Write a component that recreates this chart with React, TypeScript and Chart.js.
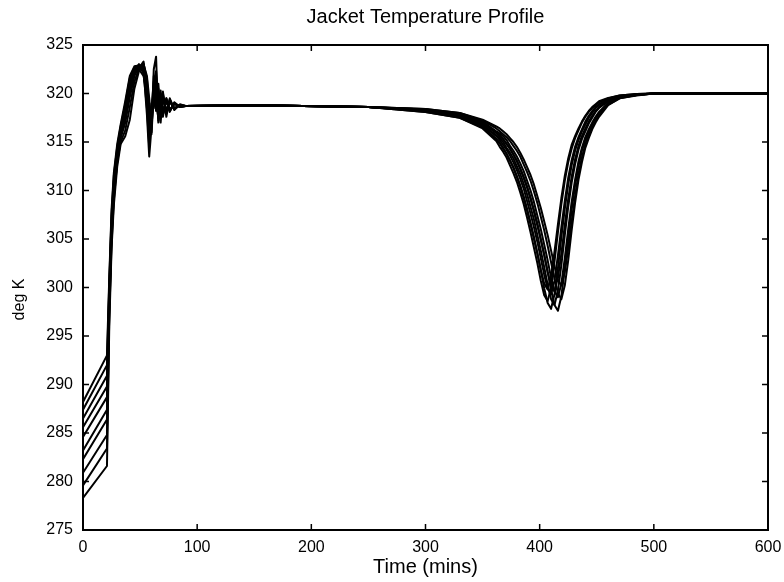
import { useEffect, useRef } from "react";
import { Chart, registerables } from "chart.js";

Chart.register(...registerables);

// Sample times (minutes), shared by every batch run
const TIME = [
  0, 21, 23, 25, 27, 30, 33, 37, 41, 45, 49, 53, 56, 58, 60, 62, 64, 66, 68, 70, 73, 76, 80, 85, 90,
  150, 250, 300, 330, 350,
  362, 365, 368, 371, 374, 377, 380, 383, 386, 389, 392, 395, 398, 401, 404, 407, 410, 413, 416, 419,
  422, 425, 428, 431, 434, 437, 440, 443, 446, 449, 452,
  460, 470, 485, 500, 600,
];

// Jacket temperature (deg K) of each run at the sample times
const RUN_1 = [
  278.3, 281.6, 296, 304, 308.5, 312.5, 314.8, 315.6, 317.3, 320.5, 322.3, 323.1, 321.5, 318.5, 317.8, 320.5, 319, 317.5, 319.8, 318.2, 319.2, 318.2, 319.0, 318.6, 318.7,
  318.8, 318.6, 318.1, 317.5, 316.5,
  315.3, 314.9, 314.4, 313.8, 313.1, 312.3, 311.4, 310.4, 309.2, 307.9, 306.5, 305.0, 303.5, 301.8, 300.4, 299.8, 301.2, 303.7, 306.5, 309.2,
  311.5, 313.3, 314.7, 315.6, 316.4, 317.1, 317.7, 318.2, 318.6, 318.9, 319.2,
  319.55, 319.8, 319.95, 320, 320,
];
const RUN_2 = [
  279.6, 283.4, 297, 304.5, 309, 313, 315.0, 316.2, 318.6, 321.2, 322.6, 323.3, 320.5, 316.2, 318.5, 321.2, 322.3, 318.8, 317.5, 319.8, 318, 319.2, 318.4, 318.8, 318.7,
  318.8, 318.6, 318.1, 317.5, 316.4,
  315.1, 314.5, 314.0, 313.4, 312.6, 311.8, 310.9, 309.8, 308.6, 307.2, 305.7, 304.1, 302.5, 300.7, 299.2, 298.6, 300.0, 302.7, 305.7, 308.6,
  311.0, 312.9, 314.3, 315.4, 316.2, 317.0, 317.6, 318.1, 318.5, 318.8, 319.1,
  319.5, 319.8, 319.95, 320, 320,
];
const RUN_3 = [
  280.9, 284.8, 297.5, 305, 309.5, 313, 315.4, 317.0, 319.6, 321.8, 322.8, 323, 321.8, 319.5, 316.8, 319.2, 321, 318, 319.5, 317.6, 319.5, 318.3, 318.9, 318.7, 318.7,
  318.8, 318.6, 318.2, 317.7, 316.7,
  315.6, 315.2, 314.7, 314.2, 313.6, 312.9, 312.1, 311.2, 310.2, 308.9, 307.6, 306.2, 304.7, 303.0, 301.3, 299.9, 299.3, 300.7, 303.3, 306.2,
  308.9, 311.3, 313.1, 314.5, 315.5, 316.3, 317.1, 317.7, 318.2, 318.6, 318.9,
  319.45, 319.75, 319.9, 320, 320,
];
const RUN_4 = [
  282.3, 286.4, 298, 305.5, 309.5, 313.5, 315.6, 317.4, 320.1, 322, 322.9, 322.8, 319.5, 315, 317.5, 320.5, 318.2, 320.5, 317.8, 319.4, 318.2, 319.3, 318.5, 318.8, 318.7,
  318.8, 318.6, 318.2, 317.6, 316.6,
  315.3, 314.9, 314.3, 313.8, 313.1, 312.4, 311.5, 310.5, 309.4, 308.1, 306.7, 305.2, 303.5, 301.8, 299.9, 298.4, 297.8, 299.3, 302.0, 305.2,
  308.1, 310.6, 312.6, 314.1, 315.2, 316.1, 316.8, 317.5, 318.0, 318.5, 318.8,
  319.4, 319.7, 319.9, 320, 320,
];
const RUN_5 = [
  283.2, 287.4, 298.5, 306, 310, 313.5, 315.8, 317.7, 320.5, 322.2, 323, 322.5, 320.8, 317.5, 316, 321.8, 320.2, 317.8, 319.6, 317.8, 319.4, 318.2, 319, 318.6, 318.7,
  318.8, 318.6, 318.3, 317.8, 316.9,
  316.0, 315.7, 315.3, 314.8, 314.3, 313.7, 313.0, 312.2, 311.3, 310.3, 309.1, 307.8, 306.4, 304.9, 303.3, 301.6, 300.2, 299.6, 301.0, 303.5,
  306.4, 309.1, 311.4, 313.2, 314.6, 315.6, 316.4, 317.1, 317.7, 318.2, 318.6,
  319.3, 319.7, 319.9, 320, 320,
];
const RUN_6 = [
  284.6, 288.7, 299, 306, 310.5, 314, 316.0, 318.0, 320.8, 322.4, 323, 322.2, 318.5, 314.5, 319, 318.5, 320.5, 319.2, 317, 320, 317.9, 319.4, 318.3, 318.9, 318.7,
  318.8, 318.6, 318.3, 317.7, 316.8,
  315.7, 315.4, 315.0, 314.4, 313.9, 313.3, 312.5, 311.7, 310.7, 309.6, 308.3, 307.0, 305.4, 303.8, 302.1, 300.3, 298.8, 298.2, 299.7, 302.3,
  305.4, 308.3, 310.8, 312.7, 314.2, 315.3, 316.1, 316.9, 317.5, 318.1, 318.5,
  319.2, 319.65, 319.9, 320, 320,
];
const RUN_7 = [
  285.6, 289.8, 299.5, 306.5, 310.5, 314, 316.2, 318.3, 321.1, 322.5, 322.8, 322.9, 321, 318.8, 315.8, 320, 321.8, 318, 320.3, 317.8, 319.3, 318.3, 318.9, 318.7, 318.7,
  318.8, 318.6, 318.35, 317.9, 317.1,
  316.1, 315.9, 315.6, 315.2, 314.6, 314.1, 313.5, 312.8, 312.0, 311.0, 310.0, 308.8, 307.4, 306.0, 304.4, 302.8, 301.0, 299.6, 299.0, 300.4,
  303.0, 306.0, 308.8, 311.1, 313.0, 314.4, 315.5, 316.3, 317.0, 317.6, 318.1,
  319.05, 319.6, 319.85, 320, 320,
];
const RUN_8 = [
  286.5, 290.9, 300, 307, 311, 314.2, 316.4, 318.6, 321.4, 322.6, 322.7, 322.6, 317.8, 313.5, 316.5, 322.5, 323.8, 317, 318.5, 320.2, 317.6, 319.5, 318.4, 318.8, 318.7,
  318.8, 318.6, 318.35, 317.8, 317.0,
  315.9, 315.6, 315.3, 314.8, 314.3, 313.7, 313.1, 312.3, 311.4, 310.4, 309.3, 308.0, 306.6, 305.0, 303.4, 301.6, 299.8, 298.2, 297.6, 299.1,
  301.9, 305.0, 308.0, 310.5, 312.5, 314.1, 315.2, 316.0, 316.8, 317.5, 318.0,
  319.0, 319.55, 319.85, 320, 320,
];
const RUN_9 = [
  287.4, 292.0, 300.5, 307.5, 311.5, 314.5, 316.6, 318.9, 321.6, 322.7, 322.5, 321.8, 320.2, 317, 318, 319, 320.5, 317.2, 320, 317.9, 319.5, 318.1, 319.1, 318.6, 318.7,
  318.8, 318.6, 318.4, 318.0, 317.3,
  316.6, 316.4, 316.1, 315.8, 315.4, 315.0, 314.5, 313.9, 313.2, 312.4, 311.6, 310.6, 309.4, 308.2, 306.8, 305.4, 303.8, 302.2, 300.8, 300.2,
  301.6, 304.0, 306.8, 309.4, 311.7, 313.4, 314.8, 315.7, 316.5, 317.2, 317.8,
  318.85, 319.5, 319.85, 320, 320,
];
const RUN_10 = [
  288.2, 293.0, 301, 308, 311.8, 314.8, 316.8, 319.2, 321.8, 322.8, 322.9, 322.1, 319.5, 316, 317.2, 320.8, 319.3, 321, 317.5, 319.6, 318.3, 319.1, 318.5, 318.8, 318.7,
  318.8, 318.6, 318.4, 318.0, 317.2,
  316.4, 316.1, 315.8, 315.5, 315.1, 314.6, 314.1, 313.5, 312.7, 311.9, 311.0, 309.9, 308.7, 307.3, 305.9, 304.3, 302.6, 300.9, 299.4, 298.8,
  300.2, 302.8, 305.9, 308.7, 311.1, 312.9, 314.4, 315.4, 316.3, 317.0, 317.6,
  318.8, 319.5, 319.8, 320, 320,
];

const RUNS = [RUN_1, RUN_2, RUN_3, RUN_4, RUN_5, RUN_6, RUN_7, RUN_8, RUN_9, RUN_10];

const X_TICKS = [0, 100, 200, 300, 400, 500, 600];
const Y_TICKS = [275, 280, 285, 290, 295, 300, 305, 310, 315, 320, 325];

const TITLE = "Jacket Temperature Profile";
const X_LABEL = "Time (mins)";
const Y_LABEL = "deg K";

const FONT = "'Liberation Sans', Arial, Helvetica, sans-serif";

// Boxed axes with inward tick marks on all four sides, plus the rotated y label
const framePlugin = {
  id: "boxFrame",
  afterDatasetsDraw(chart: any) {
    const { ctx, chartArea: a, scales } = chart;
    const len = 6;
    ctx.save();
    ctx.strokeStyle = "#000";
    ctx.lineWidth = 2;
    ctx.strokeRect(a.left, a.top, a.right - a.left, a.bottom - a.top);
    ctx.lineWidth = 1.5;
    ctx.beginPath();
    for (const v of X_TICKS) {
      const x = scales.x.getPixelForValue(v);
      ctx.moveTo(x, a.bottom);
      ctx.lineTo(x, a.bottom - len);
      ctx.moveTo(x, a.top);
      ctx.lineTo(x, a.top + len);
    }
    for (const v of Y_TICKS) {
      const y = scales.y.getPixelForValue(v);
      ctx.moveTo(a.left, y);
      ctx.lineTo(a.left + len, y);
      ctx.moveTo(a.right, y);
      ctx.lineTo(a.right - len, y);
    }
    ctx.stroke();

    ctx.translate(a.left - 63, (a.top + a.bottom) / 2 + 12);
    ctx.rotate(-Math.PI / 2);
    ctx.font = `16px ${FONT}`;
    ctx.fillStyle = "#000";
    ctx.textAlign = "center";
    ctx.textBaseline = "middle";
    ctx.fillText(Y_LABEL, 0, 0);
    ctx.restore();
  },
};

export default function App() {
  const canvasRef = useRef<HTMLCanvasElement | null>(null);

  useEffect(() => {
    document.body.style.margin = "0";
    const canvas = canvasRef.current;
    if (!canvas) return;

    const datasets = RUNS.map((run, i) => ({
      label: `Run ${i + 1}`,
      data: TIME.map((t, j) => ({ x: t, y: run[j] })),
      borderColor: "#000",
      backgroundColor: "#000",
      borderWidth: 2,
      pointRadius: 0,
      fill: false,
      tension: 0,
      borderJoinStyle: "round" as const,
    }));

    const chart = new Chart(canvas, {
      type: "line",
      data: { datasets },
      options: {
        responsive: false,
        animation: false,
        events: [],
        layout: { padding: { top: 0, right: 16, bottom: 0, left: 0 } },
        plugins: {
          legend: { display: false },
          tooltip: { enabled: false },
          title: {
            display: true,
            fullSize: false,
            text: TITLE,
            color: "#000",
            font: { family: FONT, size: 20, weight: "normal" },
            padding: { top: 5, bottom: 16 },
          },
        },
        scales: {
          x: {
            type: "linear",
            min: 0,
            max: 600,
            grid: { display: false, drawTicks: false },
            border: { display: false },
            ticks: {
              stepSize: 100,
              color: "#000",
              font: { family: FONT, size: 16 },
              padding: 8,
              maxRotation: 0,
            },
            title: {
              display: true,
              text: X_LABEL,
              color: "#000",
              font: { family: FONT, size: 20 },
              padding: { top: 0, bottom: 3 },
            },
            afterFit: (s: any) => {
              s.height = 52;
              s.paddingLeft = 0;
              s.paddingRight = 0;
            },
          },
          y: {
            type: "linear",
            min: 275,
            max: 325,
            grid: { display: false, drawTicks: false },
            border: { display: false },
            ticks: {
              stepSize: 5,
              color: "#000",
              font: { family: FONT, size: 16 },
              padding: 10,
            },
            afterFit: (s: any) => {
              s.width = 83;
            },
          },
        },
      },
      plugins: [framePlugin],
    });

    return () => chart.destroy();
  }, []);

  return (
    <div style={{ width: 784, height: 582, background: "#fff" }}>
      <canvas ref={canvasRef} width={784} height={582} />
    </div>
  );
}
